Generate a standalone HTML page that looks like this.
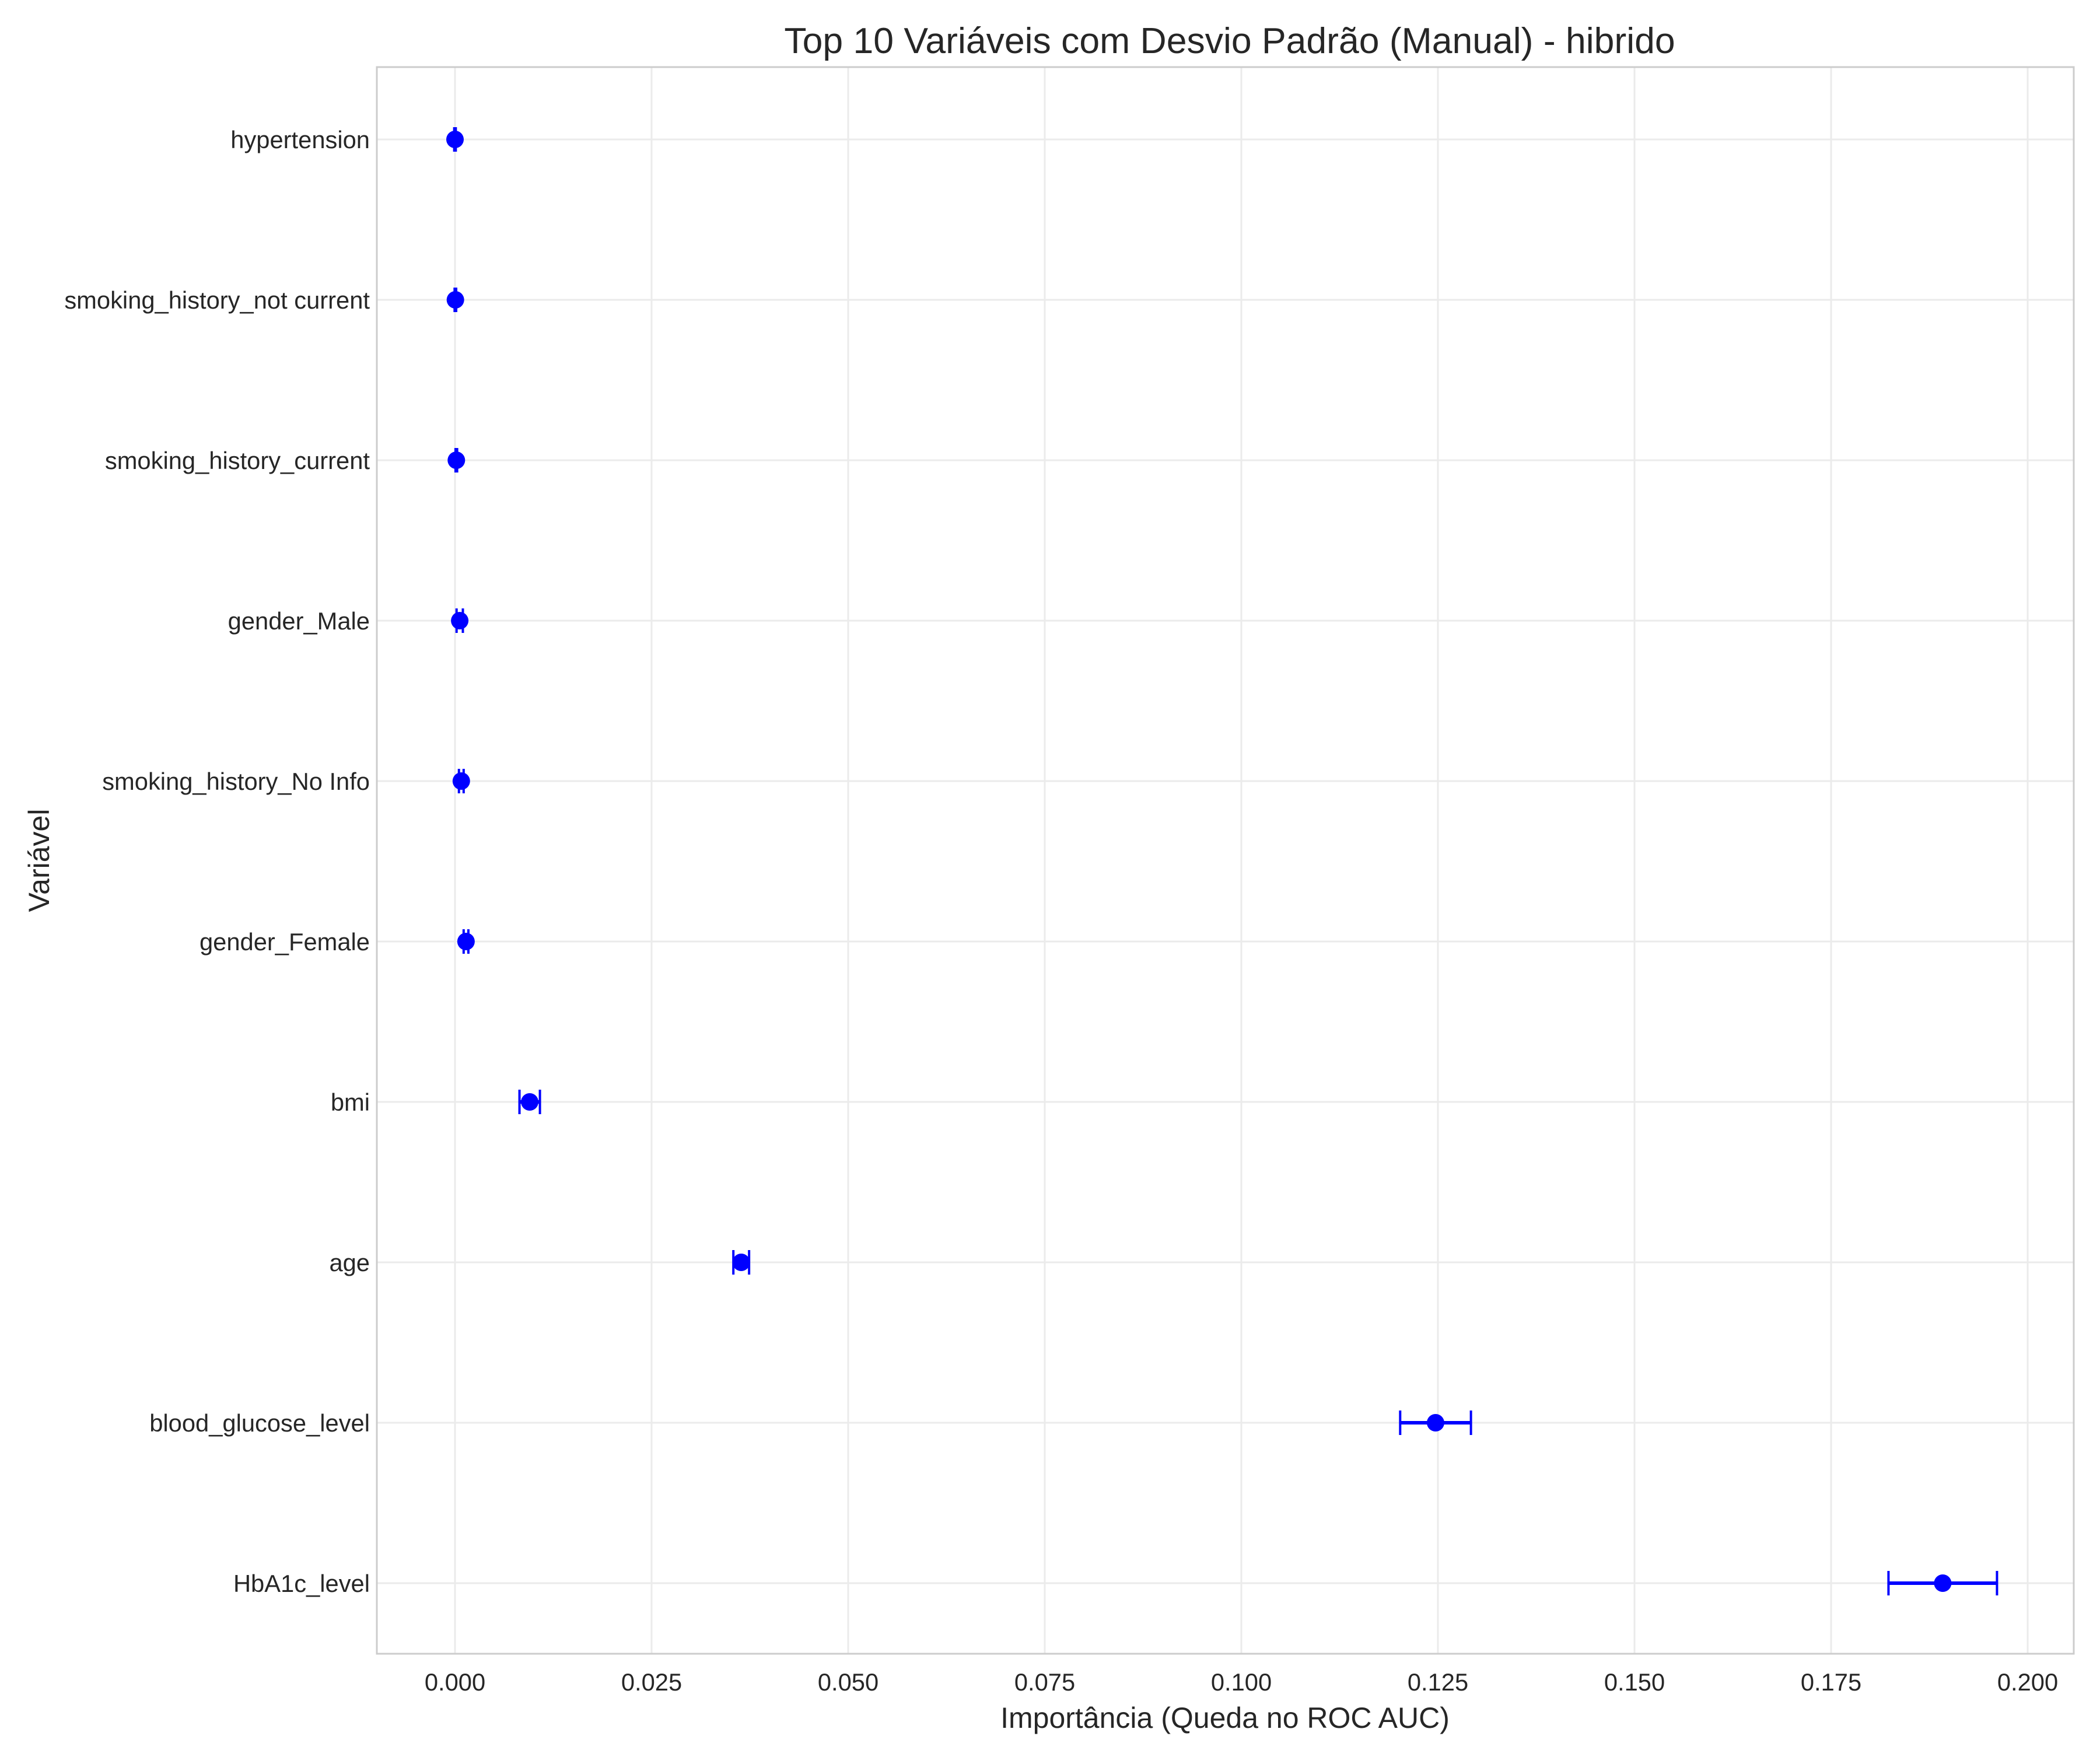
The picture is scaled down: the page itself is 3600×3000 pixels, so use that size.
<!DOCTYPE html>
<html><head><meta charset="utf-8"><style>
html,body{margin:0;padding:0;background:#fff;}
svg{display:block;font-family:"Liberation Sans",sans-serif;}
</style></head><body>
<svg id="chart" width="3600" height="3000" viewBox="0 0 3600 3000">
<rect x="0" y="0" width="3600" height="3000" fill="#fff"/>
<g id="grid"></g>
<g id="marks"></g>
<g id="labels"></g>
<rect x="646" y="115" width="2909" height="2720" fill="none" stroke="#cccccc" stroke-width="3"/>
<text x="2108" y="91" font-size="62.5" fill="#262626" text-anchor="middle">Top 10 Variáveis com Desvio Padrão (Manual) - hibrido</text>
<text x="2100" y="2962" font-size="50" fill="#262626" text-anchor="middle">Importância (Queda no ROC AUC)</text>
<text x="0" y="0" font-size="50" fill="#262626" text-anchor="middle" transform="translate(84,1475) rotate(-90)">Variável</text>
</svg>
<script>
const categories = ["hypertension","smoking_history_not current","smoking_history_current","gender_Male","smoking_history_No Info","gender_Female","bmi","age","blood_glucose_level","HbA1c_level"];
const importances = [0.0000,0.00005,0.00017,0.0006,0.0008,0.0014,0.0095,0.0364,0.1247,0.1892];
const stdDevs = [0.0001,0.0001,0.0001,0.0004,0.0003,0.0003,0.0013,0.0010,0.0045,0.0069];
const xTicks = [0,0.025,0.05,0.075,0.1,0.125,0.15,0.175,0.2];
const xTickLabels = ["0.000","0.025","0.050","0.075","0.100","0.125","0.150","0.175","0.200"];

const NS = "http://www.w3.org/2000/svg";
const X0 = 780, XS = 13480;
function xs(v){ return X0 + v*XS; }
function ys(i){ return 239 + i*275; }
function mk(tag, attrs, parent){ const e=document.createElementNS(NS,tag); for(const k in attrs) e.setAttribute(k,attrs[k]); parent.appendChild(e); return e; }
const grid=document.getElementById('grid'), marks=document.getElementById('marks'), labels=document.getElementById('labels');

xTicks.forEach((t,i)=>{
  const l=mk('line',{x1:xs(t),x2:xs(t),y1:115,y2:2835,stroke:'#ebebeb','stroke-width':3},grid);
  
  
  const tx=mk('text',{x:xs(t),y:2898,'font-size':41.7,fill:'#262626','text-anchor':'middle'},labels);
  tx.textContent=xTickLabels[i];
  
  
});
categories.forEach((c,i)=>{
  const y=ys(i);
  const l=mk('line',{x1:646,x2:3555,y1:y,y2:y,stroke:'#ebebeb','stroke-width':3},grid);
  
  
  const tx=mk('text',{x:634,y:y+15,'font-size':41.7,fill:'#262626','text-anchor':'end'},labels);
  tx.textContent=c;
  
  
  const lo=xs(importances[i]-stdDevs[i]), hi=xs(importances[i]+stdDevs[i]);
  const g=mk('g',{},marks);
  
  
  mk('line',{x1:lo,x2:hi,y1:y,y2:y,stroke:'#0000ff','stroke-width':6},g);
  mk('line',{x1:lo,x2:lo,y1:y-21,y2:y+21,stroke:'#0000ff','stroke-width':4},g);
  mk('line',{x1:hi,x2:hi,y1:y-21,y2:y+21,stroke:'#0000ff','stroke-width':4},g);
  mk('circle',{cx:xs(importances[i]),cy:y,r:15,fill:'#0000ff'},g);
});
</script>
</body></html>
